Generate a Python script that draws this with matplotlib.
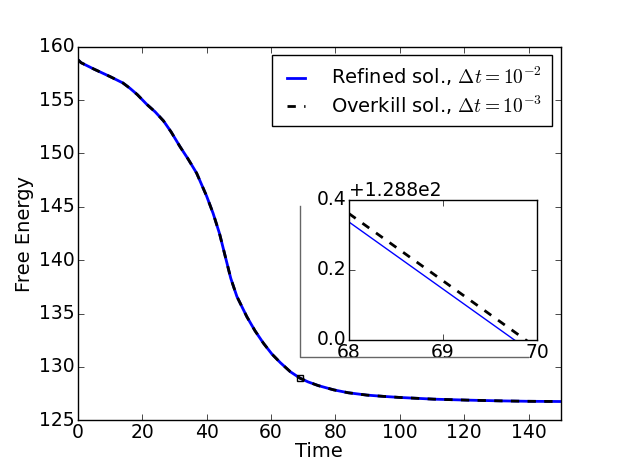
import matplotlib
matplotlib.use("Agg")
import matplotlib.pyplot as plt
from matplotlib.lines import Line2D
from matplotlib.ticker import ScalarFormatter

# free energy over time
time = [0, 1, 5, 10, 14, 16.2, 18.5, 21.4, 24, 26.6, 29, 31.7, 34.3, 36.9,
        40.0, 42.0, 44.0, 46.0, 47.5, 49.4, 52.5, 55, 57.7, 60.3, 62.9, 66, 69,
        71.5, 74.7, 79.5, 84, 89.8, 95, 100, 110.6, 121, 131.3, 140, 150]
refined = [158.78, 158.5, 157.9, 157.2, 156.6, 156.1, 155.5, 154.6, 153.9,
           153.05, 152.0, 150.65, 149.45, 148.15, 146.0, 144.4, 142.5,
           140.1, 138.3, 136.6, 134.7, 133.4, 132.2, 131.2, 130.4, 129.55,
           128.95, 128.6, 128.25, 127.85, 127.58, 127.36, 127.24, 127.14,
           126.98, 126.89, 126.82, 126.78, 126.76]
overkill = list(refined)

# zoomed window 68..70
zoom_time = [68, 70]
refined_zoom = [129.137, 128.754]
overkill_zoom = [129.161, 128.777]
marker_t, marker_e = 69.05, 128.95

plt.style.use('classic')
plt.rcParams['figure.facecolor'] = 'white'
plt.rcParams['savefig.facecolor'] = 'white'
plt.rcParams['font.size'] = 13.5
plt.rcParams['xtick.labelsize'] = 13.5
plt.rcParams['ytick.labelsize'] = 13.5
plt.rcParams['xtick.major.pad'] = 2
plt.rcParams['ytick.major.pad'] = 2
plt.rcParams['axes.labelsize'] = 14
plt.rcParams['legend.fontsize'] = 14

fig = plt.figure(figsize=(6.23, 4.67), dpi=100)
ax = fig.add_axes([0.125, 0.1, 0.775, 0.8])

ax.plot(time, refined, color='blue', lw=2, label=r'Refined sol., $\Delta t=10^{-2}$')
ax.plot(time, overkill, color='black', lw=2, ls='--', label=r'Overkill sol., $\Delta t=10^{-3}$')
ax.plot([marker_t], [marker_e], 's', mfc='none', mec='black', ms=5, mew=1)

ax.set_xlim(0, 150)
ax.set_ylim(125, 160)
ax.set_xticks(range(0, 141, 20))
ax.set_yticks(range(125, 161, 5))
ax.set_xlabel('Time', labelpad=0)
ax.set_ylabel('Free Energy', labelpad=4)
ax.legend(loc='upper right', handlelength=1.5, handletextpad=1.05,
          labelspacing=0.25, borderpad=0.5, borderaxespad=0.45)

# gray frame behind the inset
fig.add_artist(Line2D([0.4815, 0.4815, 0.8475], [0.559, 0.2355, 0.2355],
                      transform=fig.transFigure, color='0.4', lw=1))

ins = fig.add_axes([0.560, 0.272, 0.302, 0.300])
ins.plot(zoom_time, refined_zoom, color='blue', lw=1)
ins.plot(zoom_time, overkill_zoom, color='black', lw=2, ls='--')
ins.set_xlim(68, 70)
ins.set_ylim(128.8, 129.2)
ins.set_xticks([68, 69, 70])
ins.set_yticks([128.8, 129.0, 129.2])
ins.yaxis.set_major_formatter(ScalarFormatter(useOffset=128.8))

fig.savefig('out.png', dpi=100)
